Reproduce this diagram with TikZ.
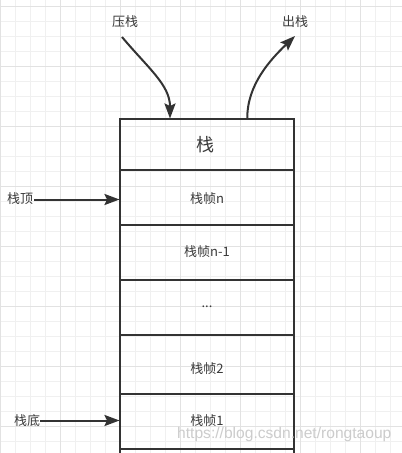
\documentclass[tikz,border=0pt]{standalone}
\usepackage{fontspec}
\newfontfamily\cjk{Noto Sans CJK SC}
\newfontfamily\wm{Liberation Sans}
\usetikzlibrary{arrows.meta}
\definecolor{minorgrid}{HTML}{F0F0F0}
\definecolor{majorgrid}{HTML}{E2E2E2}
\definecolor{ink}{HTML}{333333}
\definecolor{txt}{HTML}{3A3A3A}
\definecolor{wmark}{HTML}{CCCCCC}
\tikzset{
  cell/.style={draw=ink, line width=2pt, minimum width=173.4pt, inner sep=0pt},
  celltext/.style={font=\cjk\fontsize{13}{15}\selectfont, text=txt, inner sep=0pt},
  titletext/.style={font=\cjk\fontsize{18}{20}\selectfont, text=txt, inner sep=0pt},
  sidelabel/.style={font=\cjk\fontsize{13}{15}\selectfont, text=txt, inner sep=0pt},
  arr/.style={draw=ink, line width=2pt, -{Stealth[length=15pt,width=11pt,inset=2.5pt]}},
  gridminor/.style={draw=minorgrid, line width=1pt},
  gridmajor/.style={draw=majorgrid, line width=1pt}
}
\begin{document}
\begin{tikzpicture}[x=1pt,y=-1pt]
\useasboundingbox (0,0) rectangle (402,453);
\clip (0,0) rectangle (402,453);
\fill[white] (0,0) rectangle (402,453);
% grid
\foreach \x in {0.7,15.7,...,402} \draw[gridminor] (\x,0) -- (\x,453);
\foreach \y in {6.7,21.7,...,453} \draw[gridminor] (0,\y) -- (402,\y);
\foreach \x in {0.7,60.7,...,402} \draw[gridmajor] (\x,0) -- (\x,453);
\foreach \y in {6.7,66.7,...,453} \draw[gridmajor] (0,\y) -- (402,\y);
% stack cells
\node[cell, minimum height=51.3pt] (c0) at (207,144.35) {};
\node[cell, minimum height=55pt] (c1) at (207,197.5) {};
\node[cell, minimum height=55pt] (c2) at (207,252.5) {};
\node[cell, minimum height=55pt] (c3) at (207,307.5) {};
\node[cell, minimum height=59pt] (c4) at (207,364.5) {};
\node[cell, minimum height=55pt] (c5) at (207,421.5) {};
\node[cell, minimum height=55pt] (c6) at (207,476.5) {};
% cell texts
\node[titletext] (t0) at (205,145) {栈};
\node[celltext] (t1) at (207,199) {栈帧n};
\node[celltext] (t2) at (207,252) {栈帧n-1};
\node[celltext] (t3) at (207,307) {...};
\node[celltext] (t4) at (207,369) {栈帧2};
\node[celltext] (t5) at (207,421) {栈帧1};
% top labels
\node[sidelabel] (push) at (125,22) {压栈};
\node[sidelabel] (pop) at (295,22) {出栈};
% side labels
\node[sidelabel] (topl) at (20,199) {栈顶};
\node[sidelabel] (botl) at (27,421) {栈底};
% connectors
\coordinate (pushstart) at (122,37);
\coordinate (pushend) at (170,118.5);
\coordinate (popstart) at (247.3,118.5);
\coordinate (popend) at (295,36);
\draw[arr] (pushstart) .. controls (148,68) and (170,85) .. (pushend);
\draw[arr] (popstart) .. controls (247,85) and (270,60) .. (popend);
\draw[arr] (34,199.5) -- (119.5,199.5);
\draw[arr] (40,420.5) -- (119.5,420.5);
% watermark
\node[font=\wm\fontsize{15.6}{18}\selectfont, text=wmark, anchor=west, inner sep=0pt] (wmk) at (177,434) {https://blog.csdn.net/rongtaoup};
\end{tikzpicture}
\end{document}
